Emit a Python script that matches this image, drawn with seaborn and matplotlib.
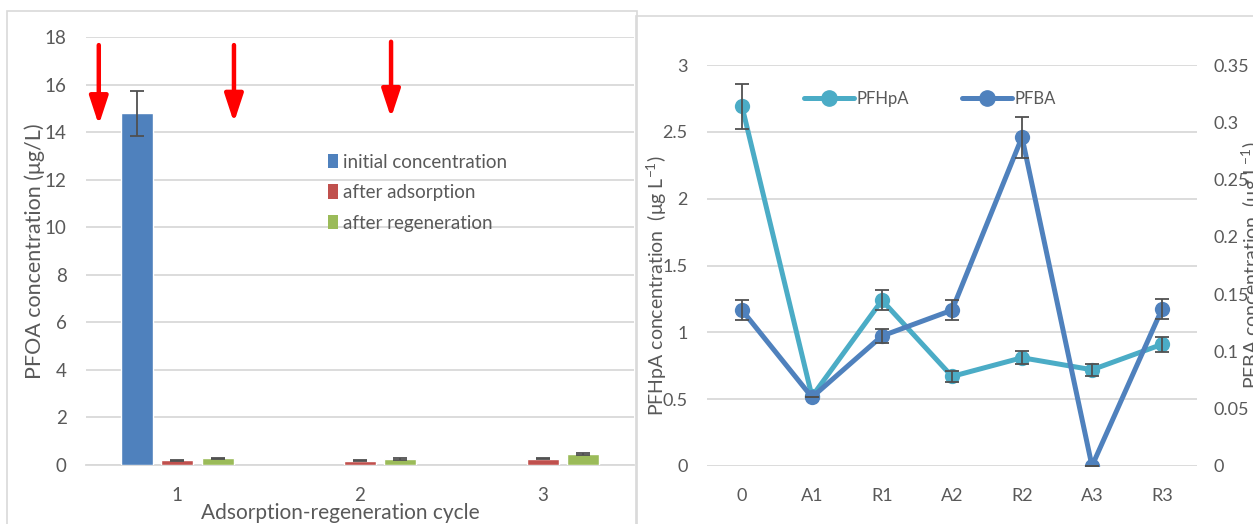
import numpy as np
import pandas as pd
import matplotlib
matplotlib.use("Agg")
import matplotlib.pyplot as plt
from matplotlib.patches import Patch, Rectangle
from matplotlib.lines import Line2D
import seaborn as sns

# ---- data: PFOA over adsorption/regeneration cycles ----
cycles = ["1", "2", "3"]
stages = ["initial concentration", "after adsorption", "after regeneration"]
initial_conc = [14.8, np.nan, np.nan]
initial_err = [0.95, np.nan, np.nan]
adsorption_conc = [0.20, 0.18, 0.27]
adsorption_err = [0.03, 0.03, 0.03]
regeneration_conc = [0.28, 0.25, 0.45]
regeneration_err = [0.03, 0.03, 0.04]

# ---- data: short-chain PFAS through the steps ----
steps = ["0", "A1", "R1", "A2", "R2", "A3", "R3"]
pfhpa = [2.69, 0.52, 1.24, 0.67, 0.81, 0.72, 0.91]
pfhpa_err = [0.167, 0.0, 0.075, 0.04, 0.05, 0.044, 0.054]
pfba = [0.136, 0.060, 0.1135, 0.136, 0.287, 0.0, 0.137]
pfba_err = [0.009, 0.0, 0.0065, 0.009, 0.018, 0.0, 0.0085]

bar_colors = ["#4F81BD", "#C0504D", "#9BBB59"]
c_pfhpa = "#4BACC6"
c_pfba = "#4F81BD"
grid_c = "#D9D9D9"
text_c = "#595959"
err_c = "#505050"

sns.set_theme(style="white")
plt.rcParams["font.family"] = ["Lato", "DejaVu Sans"]
plt.rcParams["mathtext.fontset"] = "custom"
plt.rcParams["mathtext.rm"] = "Lato"
plt.rcParams["mathtext.it"] = "Lato:italic"

W, H = 1253, 524
fig = plt.figure(figsize=(W / 100, H / 100), dpi=100)
fig.patch.set_facecolor("white")


def px_rect(x0, y0, x1, y1):
    return [x0 / W, 1 - y1 / H, (x1 - x0) / W, (y1 - y0) / H]


# chart borders
fig.patches.append(Rectangle((7 / W, -0.05), (637 - 7) / W, 1 - 11 / H + 0.05,
                             transform=fig.transFigure, fill=False,
                             edgecolor=grid_c, lw=1.2, zorder=0))
fig.patches.append(Rectangle((636 / W, -0.05), (1260 - 636) / W, 1 - 16 / H + 0.05,
                             transform=fig.transFigure, fill=False,
                             edgecolor=grid_c, lw=1.2, zorder=0))

# ================= left: grouped bars =================
ax1 = fig.add_axes(px_rect(86, 37, 634, 465))
rows = []
for i, c in enumerate(cycles):
    rows.append((c, stages[0], initial_conc[i], initial_err[i]))
    rows.append((c, stages[1], adsorption_conc[i], adsorption_err[i]))
    rows.append((c, stages[2], regeneration_conc[i], regeneration_err[i]))
df = pd.DataFrame(rows, columns=["cycle", "stage", "conc", "err"])

sns.barplot(data=df, x="cycle", y="conc", hue="stage", order=cycles,
            hue_order=stages, palette=bar_colors, width=0.664, gap=0.21,
            errorbar=None, saturation=1, ax=ax1, legend=False, zorder=3)

# error bars at each bar centre
for patch in ax1.patches:
    h = patch.get_height()
    if not np.isfinite(h) or h == 0:
        continue
    xc = patch.get_x() + patch.get_width() / 2
    match = df[np.isclose(df["conc"], h)]
    e = match["err"].iloc[0]
    ax1.errorbar(xc, h, yerr=e, fmt="none", ecolor=err_c, elinewidth=1.3,
                 capsize=5, capthick=1.3, zorder=4)

ax1.set_xlim(-0.5, 2.5)
ax1.set_ylim(0, 18)
ax1.set_yticks(np.arange(0, 19, 2))
ax1.yaxis.grid(True, color=grid_c, lw=1.3, zorder=0)
ax1.set_axisbelow(True)
for s in ["top", "right", "left"]:
    ax1.spines[s].set_visible(False)
ax1.spines["bottom"].set_color(grid_c)
ax1.spines["bottom"].set_linewidth(1.3)
ax1.tick_params(axis="both", length=0, labelsize=13.5, labelcolor=text_c)
ax1.tick_params(axis="y", pad=14)
ax1.tick_params(axis="x", pad=16)
ax1.set_xlabel("Adsorption-regeneration cycle", fontsize=15, color=text_c)
ax1.xaxis.set_label_coords(0.464, -0.088)
ax1.set_ylabel("PFOA concentration (μg/L)", fontsize=15.5, color=text_c)
ax1.yaxis.set_label_coords(-0.075, 0.5)

leg1 = ax1.legend(handles=[Patch(facecolor=c, edgecolor="none") for c in bar_colors],
                  labels=stages, loc="upper left",
                  bbox_to_anchor=((320 - 86) / 548, (465 - 146) / 428),
                  frameon=False, fontsize=13.5, handlelength=0.55, handleheight=0.85,
                  handletextpad=0.3, labelspacing=0.72, borderaxespad=0)
for t in leg1.get_texts():
    t.set_color(text_c)

# red arrows marking the spiking points
for xa, y_top, y_tip in [(-0.43, 17.66, 14.3), (0.31, 17.66, 14.4), (1.17, 17.8, 14.6)]:
    ax1.annotate("", xy=(xa, y_tip), xytext=(xa, y_top), xycoords="data",
                 arrowprops=dict(arrowstyle="-|>,head_length=0.85,head_width=0.28",
                                 color="#FF0000", lw=3.2, mutation_scale=20,
                                 shrinkA=0, shrinkB=0), zorder=6)

# ================= right: two-axis line chart =================
ax2 = fig.add_axes(px_rect(707, 65, 1197, 466))
ax3 = ax2.twinx()
xpos = np.arange(len(steps))
dl = pd.DataFrame({"step": xpos, "PFHpA": pfhpa, "PFBA": pfba})

sns.lineplot(data=dl, x="step", y="PFHpA", ax=ax2, color=c_pfhpa, lw=3.6,
             marker="o", markersize=11, markeredgewidth=0, zorder=3)
ax2.errorbar(xpos, pfhpa, yerr=pfhpa_err, fmt="none", ecolor=err_c,
             elinewidth=1.3, capsize=5, capthick=1.3, zorder=4)
sns.lineplot(data=dl, x="step", y="PFBA", ax=ax3, color=c_pfba, lw=3.6,
             marker="o", markersize=11, markeredgewidth=0, zorder=3)
ax3.errorbar(xpos, pfba, yerr=pfba_err, fmt="none", ecolor=err_c,
             elinewidth=1.3, capsize=5, capthick=1.3, zorder=4)

ax2.set_xlim(-0.5, len(steps) - 0.5)
ax2.set_ylim(0, 3)
ax3.set_ylim(0, 0.35)
ax2.set_yticks(np.arange(0, 3.01, 0.5))
ax2.set_yticklabels(["0", "0.5", "1", "1.5", "2", "2.5", "3"])
ax3.set_yticks(np.arange(0, 0.351, 0.05))
ax3.set_yticklabels(["0", "0.05", "0.1", "0.15", "0.2", "0.25", "0.3", "0.35"])
ax2.set_xticks(xpos)
ax2.set_xticklabels(steps)
ax2.yaxis.grid(True, color=grid_c, lw=1.3, zorder=0)
ax2.set_axisbelow(True)
for a in (ax2, ax3):
    for s in ["top", "right", "left", "bottom"]:
        a.spines[s].set_visible(False)
    a.tick_params(axis="both", length=0, labelsize=13, labelcolor=text_c)
ax2.tick_params(axis="y", pad=14)
ax2.tick_params(axis="x", pad=16)
ax3.tick_params(axis="y", pad=12)
ax2.set_xlabel("")
ax2.set_ylabel(r"PFHpA concentration  (μg L$^{-1}$)", fontsize=14, color=text_c)
ax2.yaxis.set_label_coords(-0.078, 0.45)
ax3.set_ylabel(r"PFBA concentration  (μg L$^{-1}$)", fontsize=14, color=text_c,
               rotation=90)
ax3.yaxis.set_label_coords(1.088, 0.5)

handles = [Line2D([0], [0], color=c_pfhpa, lw=3.6, marker="o", markersize=11),
           Line2D([0], [0], color=c_pfba, lw=3.6, marker="o", markersize=11)]
leg2 = fig.legend(handles=handles, labels=["PFHpA", "PFBA"], ncol=2,
                  loc="center", bbox_to_anchor=(930 / W, 1 - 99 / H),
                  frameon=False, fontsize=12, handlelength=3.0,
                  handletextpad=0.15, columnspacing=3.2)
for t in leg2.get_texts():
    t.set_color(text_c)

fig.savefig("out.png", dpi=100)
